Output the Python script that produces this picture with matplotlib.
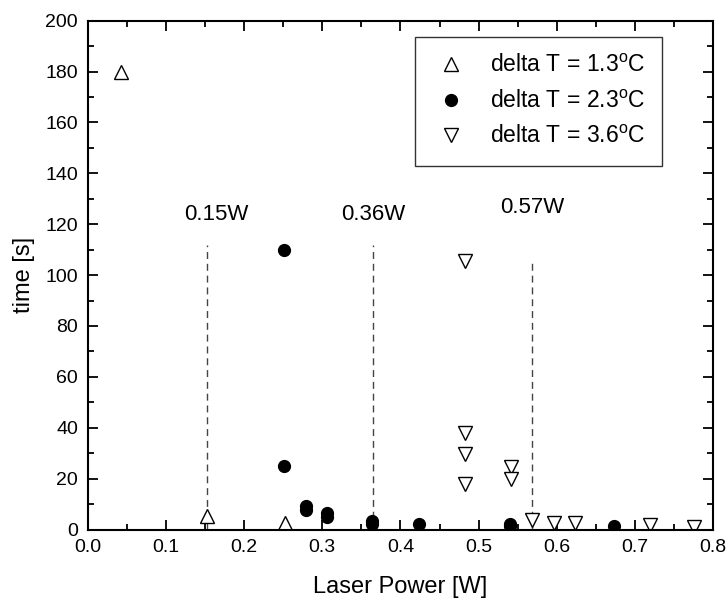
import matplotlib
matplotlib.use('Agg')
import matplotlib.pyplot as plt
from matplotlib.ticker import MultipleLocator

plt.rcParams['font.family'] = ['Liberation Sans', 'DejaVu Sans']
plt.rcParams['mathtext.fontset'] = 'custom'
plt.rcParams['mathtext.rm'] = 'Liberation Sans'

# delta T = 1.3 C
x13 = [0.043, 0.152, 0.252]
y13 = [180, 5.5, 2.5]

# delta T = 2.3 C
x23 = [0.251, 0.251, 0.279, 0.279, 0.306, 0.306, 0.364, 0.364, 0.424, 0.540, 0.540, 0.673]
y23 = [110, 25, 9.2, 7.8, 6.5, 5.0, 3.5, 2.0, 2.0, 2.2, 1.2, 1.2]

# delta T = 3.6 C
x36 = [0.483, 0.483, 0.483, 0.483, 0.541, 0.541, 0.568, 0.597, 0.623, 0.719, 0.776]
y36 = [105.6, 37.8, 29.8, 17.7, 24.7, 19.7, 3.7, 2.7, 2.7, 1.8, 0.9]

# threshold lines
thr_x = [0.153, 0.365, 0.568]
thr_top = [112, 112, 105]
thr_lab = ['0.15W', '0.36W', '0.57W']
lab_xy = [(0.164, 124), (0.365, 124), (0.568, 126.5)]

fig = plt.figure(figsize=(7.27, 6.0), dpi=100)
ax = fig.add_axes([0.1206, 0.1175, 0.8604, 0.848])

for xv, top in zip(thr_x, thr_top):
    ax.plot([xv, xv], [0, top], color='#444444', lw=1.0, dashes=(5, 3.5))
for t, (lx, ly) in zip(thr_lab, lab_xy):
    ax.text(lx, ly, t, ha='center', va='center', fontsize=16)

ax.plot(x13, y13, ls='none', marker='^', ms=9.5, mfc='white', mec='black', mew=1.0,
        label=r'delta T = 1.3$^{\rm o}$C')
ax.plot(x23, y23, ls='none', marker='o', ms=8.5, mfc='black', mec='black',
        label=r'delta T = 2.3$^{\rm o}$C')
ax.plot(x36, y36, ls='none', marker='v', ms=9.5, mfc='white', mec='black', mew=1.0,
        label=r'delta T = 3.6$^{\rm o}$C')

ax.set_xlim(0, 0.8)
ax.set_ylim(0, 200)
ax.xaxis.set_major_locator(MultipleLocator(0.1))
ax.xaxis.set_minor_locator(MultipleLocator(0.05))
ax.yaxis.set_major_locator(MultipleLocator(20))
ax.yaxis.set_minor_locator(MultipleLocator(10))
ax.tick_params(which='both', direction='in', top=True, right=True, width=1.3, labelsize=14)
ax.tick_params(which='major', length=7, pad=7)
ax.tick_params(which='minor', length=4)
for s in ax.spines.values():
    s.set_linewidth(1.5)

ax.set_xlabel('Laser Power [W]', fontsize=17, labelpad=14)
ax.set_ylabel('time [s]', fontsize=17, labelpad=7)

leg = ax.legend(loc='upper right', bbox_to_anchor=(0.9185, 0.968), borderaxespad=0,
                fontsize=16.5, frameon=True, fancybox=False, edgecolor='black',
                handletextpad=0.9, borderpad=0.75, labelspacing=0.55, handlelength=1.6)
leg.get_frame().set_linewidth(1.0)

fig.savefig('out.png', dpi=100)
